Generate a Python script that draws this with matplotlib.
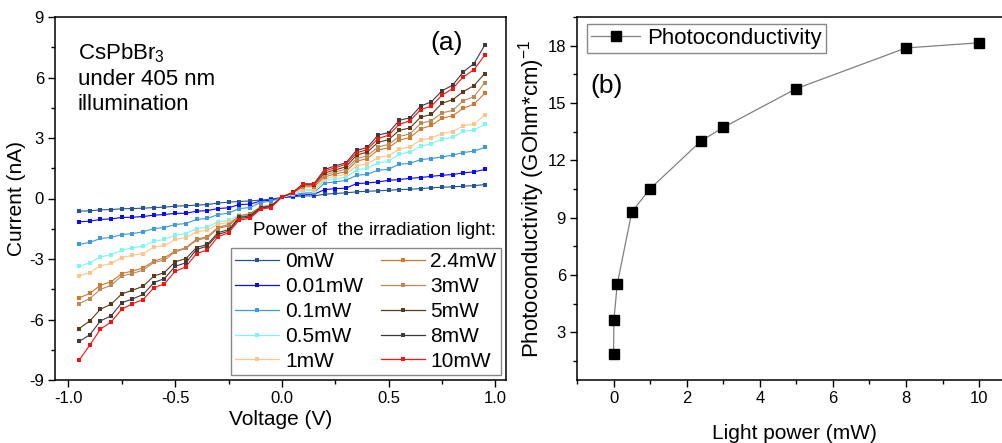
import numpy as np
import matplotlib
matplotlib.use("Agg")
import matplotlib.pyplot as plt
from matplotlib.ticker import MultipleLocator
from matplotlib.lines import Line2D

plt.rcParams['font.family'] = ['Liberation Sans', 'DejaVu Sans']
plt.rcParams['axes.unicode_minus'] = False
plt.rcParams['mathtext.fontset'] = 'custom'
plt.rcParams['mathtext.rm'] = 'Liberation Sans'
plt.rcParams['mathtext.it'] = 'Liberation Sans:italic'
plt.rcParams['mathtext.default'] = 'regular'

# ---------------- data (a) ----------------
voltage = np.round(np.arange(-0.95, 0.951, 0.05), 2)

labels = ["0mW", "0.01mW", "0.1mW", "0.5mW", "1mW", "2.4mW", "3mW", "5mW", "8mW", "10mW"]
colors = ["#23549a", "#0a0aff", "#3f9ad8", "#7ff5f5", "#ffc58a",
          "#d0782e", "#b88a5a", "#5b3a1c", "#3c3c3c", "#ff1010"]

i_0mW = [-0.63, -0.61, -0.56, -0.55, -0.51, -0.50, -0.48, -0.45, -0.43, -0.38, -0.36, -0.33, -0.30, -0.23, -0.18, -0.15, -0.12, -0.08, -0.03,
         0.05,
         0.08, 0.13, 0.13, 0.21, 0.25, 0.28, 0.33, 0.36, 0.38, 0.41, 0.44, 0.46, 0.49, 0.53, 0.56, 0.58, 0.61, 0.64, 0.69]
i_001mW = [-1.16, -1.12, -1.04, -1.01, -0.94, -0.93, -0.89, -0.83, -0.79, -0.74, -0.73, -0.63, -0.60, -0.50, -0.46, -0.30, -0.28, -0.13, -0.08,
           0.05,
           0.11, 0.21, 0.21, 0.44, 0.49, 0.51, 0.74, 0.77, 0.82, 0.90, 0.94, 1.00, 1.04, 1.10, 1.15, 1.19, 1.27, 1.32, 1.44]
i_01mW = [-2.28, -2.18, -1.98, -1.93, -1.79, -1.74, -1.65, -1.49, -1.44, -1.29, -1.24, -1.04, -0.99, -0.80, -0.73, -0.50, -0.45, -0.20, -0.13,
          0.06,
          0.16, 0.28, 0.28, 0.77, 0.82, 0.90, 1.15, 1.20, 1.40, 1.45, 1.70, 1.74, 1.93, 1.98, 2.06, 2.15, 2.28, 2.35, 2.53]
i_05mW = [-3.36, -3.19, -2.89, -2.79, -2.56, -2.45, -2.36, -2.12, -2.03, -1.82, -1.74, -1.49, -1.42, -1.16, -1.09, -0.83, -0.75, -0.46, -0.33,
          0.05,
          0.21, 0.38, 0.38, 0.90, 0.98, 1.06, 1.42, 1.50, 1.76, 1.85, 2.20, 2.30, 2.60, 2.70, 2.95, 3.03, 3.33, 3.40, 3.67]
i_1mW = [-3.85, -3.67, -3.34, -3.22, -2.93, -2.81, -2.73, -2.41, -2.33, -2.03, -1.95, -1.65, -1.57, -1.27, -1.19, -0.91, -0.83, -0.50, -0.40,
         0.05,
         0.25, 0.44, 0.44, 0.97, 1.10, 1.20, 1.62, 1.72, 2.03, 2.12, 2.45, 2.55, 2.90, 3.00, 3.22, 3.32, 3.60, 3.70, 4.13]
i_24mW = [-4.93, -4.71, -4.30, -4.13, -3.72, -3.60, -3.44, -3.11, -2.94, -2.60, -2.45, -2.02, -1.90, -1.44, -1.29, -0.86, -0.76, -0.41, -0.33,
          0.07,
          0.28, 0.58, 0.58, 1.07, 1.22, 1.33, 1.85, 1.98, 2.40, 2.52, 2.90, 3.02, 3.45, 3.62, 3.98, 4.10, 4.47, 4.68, 5.21]
i_3mW = [-5.21, -4.96, -4.51, -4.30, -3.84, -3.72, -3.55, -3.17, -3.06, -2.65, -2.47, -2.07, -1.95, -1.49, -1.36, -0.91, -0.83, -0.46, -0.36,
         0.07,
         0.28, 0.63, 0.63, 1.16, 1.32, 1.45, 1.98, 2.12, 2.55, 2.68, 3.08, 3.20, 3.72, 3.86, 4.24, 4.37, 4.85, 5.05, 5.73]
i_5mW = [-6.45, -6.07, -5.49, -5.24, -4.73, -4.55, -4.35, -3.85, -3.67, -3.14, -2.98, -2.43, -2.28, -1.70, -1.54, -0.94, -0.86, -0.45, -0.38,
         0.08,
         0.28, 0.68, 0.68, 1.27, 1.42, 1.57, 2.15, 2.30, 2.78, 2.92, 3.38, 3.50, 4.03, 4.17, 4.72, 4.90, 5.30, 5.60, 6.19]
i_8mW = [-7.09, -6.76, -6.07, -5.82, -5.17, -4.98, -4.76, -4.17, -3.97, -3.36, -3.19, -2.53, -2.36, -1.79, -1.62, -0.99, -0.93, -0.46, -0.41,
         0.08,
         0.30, 0.73, 0.73, 1.44, 1.62, 1.77, 2.39, 2.53, 3.14, 3.27, 3.88, 4.00, 4.58, 4.79, 5.34, 5.62, 6.28, 6.69, 7.60]
i_10mW = [-8.02, -7.27, -6.48, -6.12, -5.49, -5.22, -5.01, -4.43, -4.23, -3.61, -3.39, -2.73, -2.56, -1.90, -1.70, -1.07, -0.99, -0.53, -0.45,
          0.08,
          0.28, 0.70, 0.70, 1.37, 1.52, 1.70, 2.26, 2.43, 2.97, 3.14, 3.68, 3.85, 4.41, 4.58, 5.12, 5.45, 6.03, 6.39, 7.10]

currents = [i_0mW, i_001mW, i_01mW, i_05mW, i_1mW, i_24mW, i_3mW, i_5mW, i_8mW, i_10mW]

# ---------------- data (b) ----------------
light_power = [0, 0.01, 0.1, 0.5, 1, 2.4, 3, 5, 8, 10]
photoconductivity = [1.86, 3.64, 5.51, 9.30, 10.51, 13.02, 13.72, 15.75, 17.88, 18.15]

# ---------------- figure ----------------
W, H = 1003, 443
fig = plt.figure(figsize=(W / 100, H / 100), dpi=100)

def px_axes(l, t, r, b):
    return fig.add_axes([l / W, 1 - b / H, (r - l) / W, (b - t) / H])

axA = px_axes(55, 17, 506, 380)
axB = px_axes(577, 17, 1012, 380)

# ---- panel (a)
for lab, col, cur in zip(labels, colors, currents):
    axA.plot(voltage, cur, color=col, lw=0.8, marker='s', ms=2.4, mew=0,
             label=lab)

axA.set_xlim(-1.063, 1.05)
axA.set_ylim(-9, 9)
axA.xaxis.set_minor_locator(MultipleLocator(0.25))
axA.yaxis.set_major_locator(MultipleLocator(3))
axA.yaxis.set_minor_locator(MultipleLocator(1.5))
axA.set_xticks([-1.0, -0.5, 0.0, 0.5, 1.0])
axA.set_xticklabels(["-1.0", "-0.5", "0.0", "0.5", "1.0"])
axA.set_xlabel("Voltage (V)", fontsize=15, labelpad=3)
axA.set_ylabel("Current (nA)", fontsize=15, labelpad=2)

axA.text(0.05, 0.9, "CsPbBr$_3$", transform=axA.transAxes, fontsize=16,
         ha='left', va='center')
axA.text(0.05, 0.828, "under 405 nm", transform=axA.transAxes, fontsize=16,
         ha='left', va='center')
axA.text(0.05, 0.76, "illumination", transform=axA.transAxes, fontsize=16,
         ha='left', va='center')
axA.text(0.869, 0.928, "(a)", transform=axA.transAxes, fontsize=19,
         ha='center', va='center')
axA.text(0.439, 0.413, "Power of  the irradiation light:", transform=axA.transAxes,
         fontsize=13.6, ha='left', va='center')

leg_handles = [Line2D([], [], color=c, lw=0.9, marker='s', ms=2.2, mew=0) for c in colors]
legA = axA.legend(leg_handles, labels, ncol=2, loc='lower right',
                  bbox_to_anchor=(1.0, 0.0), borderaxespad=0.25, fontsize=15,
                  frameon=True, fancybox=False, edgecolor='#888888', framealpha=1,
                  handlelength=2.1, handletextpad=0.28, columnspacing=0.85,
                  labelspacing=0.28, borderpad=0.2)
legA.get_frame().set_linewidth(1.0)

# ---- panel (b)
axB.plot(light_power, photoconductivity, color='#808080', lw=0.9, marker='s',
         ms=7.2, mfc='black', mec='black', label='Photoconductivity')
axB.set_xlim(-1.0, 10.9)
axB.set_ylim(0.5, 19.5)
axB.xaxis.set_major_locator(MultipleLocator(2))
axB.xaxis.set_minor_locator(MultipleLocator(1))
axB.yaxis.set_minor_locator(MultipleLocator(1.5))
axB.set_yticks([3, 6, 9, 12, 15, 18])
axB.set_xlabel("Light power (mW)", fontsize=15, labelpad=13)
axB.set_ylabel("Photoconductivity (GOhm*cm)$^{-1}$", fontsize=16, labelpad=0)
axB.text(0.067, 0.81, "(b)", transform=axB.transAxes, fontsize=19,
         ha='center', va='center')
legB = axB.legend(loc='upper left', bbox_to_anchor=(0.023, 0.982), borderaxespad=0,
                  fontsize=16, frameon=True, fancybox=False, edgecolor='#888888',
                  framealpha=1, handlelength=2.2, handletextpad=0.3, borderpad=0.2)
legB.get_frame().set_linewidth(1.0)

for ax in (axA, axB):
    ax.tick_params(axis='both', which='major', direction='out', length=5,
                   width=1, labelsize=12, pad=3)
    ax.tick_params(axis='both', which='minor', direction='out', length=3, width=1)
    for s in ax.spines.values():
        s.set_linewidth(1.1)

fig.savefig("out.png", dpi=100)
